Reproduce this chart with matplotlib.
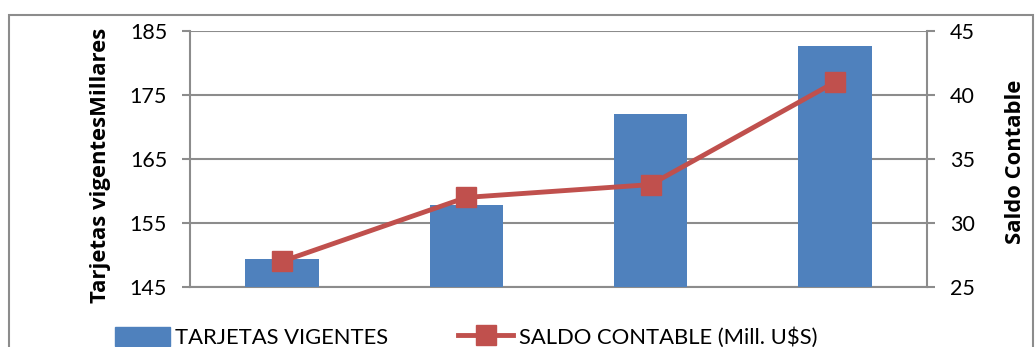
import matplotlib
matplotlib.use("Agg")
import matplotlib.pyplot as plt
from matplotlib.patches import Rectangle, Patch
from matplotlib.lines import Line2D

categories = ["1", "2", "3", "4"]
tarjetas = [149.4, 157.8, 172.1, 182.6]
saldo = [27.0, 32.0, 33.0, 41.0]
left_ticks = [145, 155, 165, 175, 185]
right_ticks = [25, 30, 35, 40, 45]

bar_color = "#4F81BD"
line_color = "#C0504D"
grid_color = "#8C8C8C"

plt.rcParams['font.family'] = ['Lato', 'DejaVu Sans']

W, H = 1035, 347
fig = plt.figure(figsize=(W / 100, H / 100), dpi=100)
# outer chart border
fig.patches.append(Rectangle((9 / W, -0.2), (1033 - 9) / W, 1.2 - 15 / H,
                             transform=fig.transFigure, fill=False,
                             edgecolor="#8C8C8C", linewidth=1.5))

x0, x1, yb, yt = 190, 927, 287, 31
ax = fig.add_axes([x0 / W, 1 - yb / H, (x1 - x0) / W, (yb - yt) / H])
x = list(range(len(categories)))
ax.bar(x, [t - left_ticks[0] for t in tarjetas], bottom=left_ticks[0], width=0.4,
       color=bar_color, zorder=3)
ax.set_xlim(-0.5, len(categories) - 0.5)
ax.set_ylim(left_ticks[0], left_ticks[-1])
ax.set_yticks(left_ticks)
ax.set_xticks([])
ax.yaxis.grid(True, color=grid_color, linewidth=1.5, zorder=0)
ax.set_axisbelow(True)
for s in ["top", "right"]:
    ax.spines[s].set_visible(False)
for s in ["left", "bottom"]:
    ax.spines[s].set_color(grid_color)
    ax.spines[s].set_linewidth(1.5)
ax.tick_params(axis="y", direction="out", length=5.5, width=1.5, color=grid_color,
               labelsize=15.5, pad=11)
ax.set_ylabel("Tarjetas vigentesMillares", fontsize=15.8, fontweight="bold",
              family=["Open Sans", "DejaVu Sans"])
ax.yaxis.set_label_coords((111 - x0) / (x1 - x0), 0.475)

ax2 = ax.twinx()
ax2.plot(x, saldo, color=line_color, linewidth=3.5, marker="s", markersize=14,
         markerfacecolor=line_color, markeredgecolor=line_color, zorder=4)
ax2.set_ylim(right_ticks[0], right_ticks[-1])
ax2.set_yticks(right_ticks)
for s in ["top", "left", "bottom"]:
    ax2.spines[s].set_visible(False)
ax2.spines["right"].set_color(grid_color)
ax2.spines["right"].set_linewidth(1.5)
ax2.tick_params(axis="y", direction="out", length=5.5, width=1.5, color=grid_color,
                labelsize=15.5, pad=11)
ax2.set_ylabel("Saldo Contable", fontsize=15.8, fontweight="bold",
               family=["Open Sans", "DejaVu Sans"])
ax2.yaxis.set_label_coords((1005 - x0) / (x1 - x0), 0.49)

handles = [Patch(facecolor=bar_color, edgecolor=bar_color),
           Line2D([0], [0], color=line_color, linewidth=3.5, marker="s", markersize=14)]
labels = ["TARJETAS VIGENTES", "SALDO CONTABLE (Mill. U$S)"]
fig.legend(handles, labels, loc="upper left", bbox_to_anchor=(106 / W, 1 - 318 / H),
           ncol=2, frameon=False, fontsize=15.8, handlelength=2.5, handleheight=1.0,
           handletextpad=0.25, columnspacing=3.2, borderaxespad=0)

fig.savefig("out.png", dpi=100)
